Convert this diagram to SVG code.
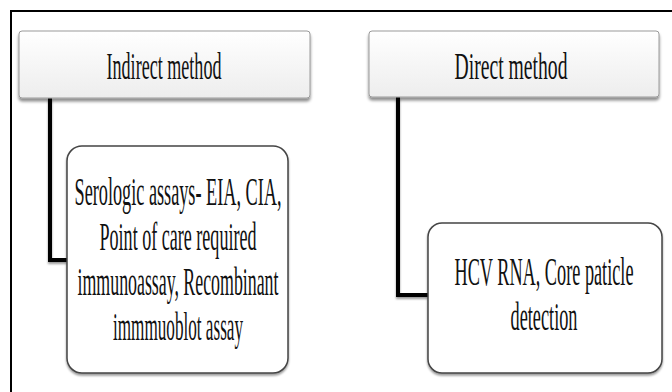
<svg xmlns="http://www.w3.org/2000/svg" width="672" height="392" viewBox="0 0 672 392">
<defs>
<linearGradient id="hg" x1="0" y1="0" x2="0" y2="1">
<stop offset="0" stop-color="#ffffff"/>
<stop offset="1" stop-color="#ededed"/>
</linearGradient>
<filter id="sh" x="-10%" y="-10%" width="120%" height="130%">
<feDropShadow dx="0" dy="3" stdDeviation="1.5" flood-color="#000" flood-opacity="0.45"/>
</filter>
<filter id="lsh" x="-20%" y="-20%" width="140%" height="140%">
<feDropShadow dx="0" dy="2" stdDeviation="1" flood-color="#000" flood-opacity="0.4"/>
</filter>
</defs>
<style>
.head{fill:url(#hg);stroke:#9a9a9a;stroke-width:1;filter:url(#sh)}
.body{fill:#fff;stroke:#444;stroke-width:1.5;filter:url(#lsh)}
.t{font-family:"Liberation Serif","Times New Roman",serif;fill:#111;text-anchor:middle}
.ht{font-size:19px}
.bt{font-size:21px}
.conn{fill:none;stroke:#000;stroke-width:4;filter:url(#lsh)}
</style>
<rect width="672" height="392" fill="#fff"/>
<rect x="11" y="11" width="720" height="420" fill="none" stroke="#000" stroke-width="2"/>
<g id="connectors">
<path class="conn" d="M50,98 V260 H67"/>
<path class="conn" d="M398,97 V295 H428"/>
</g>
<g id="indirect">
<rect class="head" x="19" y="31" width="291" height="67" rx="3"/>
<text class="t ht" transform="translate(164,79) scale(1,1.95)" textLength="115" lengthAdjust="spacingAndGlyphs">Indirect method</text>
</g>
<g id="direct">
<rect class="head" x="369" y="31" width="290" height="66" rx="3"/>
<text class="t ht" transform="translate(511,79) scale(1,1.95)" textLength="113" lengthAdjust="spacingAndGlyphs">Direct method</text>
</g>
<g id="serologic">
<rect class="body" x="67" y="146" width="221" height="227" rx="15"/>
<text class="t bt" transform="translate(178,205) scale(1,1.95)" textLength="207" lengthAdjust="spacingAndGlyphs">Serologic assays- EIA, CIA,</text>
<text class="t bt" transform="translate(178,250) scale(1,1.95)" textLength="157" lengthAdjust="spacingAndGlyphs">Point of care required</text>
<text class="t bt" transform="translate(178,295) scale(1,1.95)" textLength="201" lengthAdjust="spacingAndGlyphs">immunoassay, Recombinant</text>
<text class="t bt" transform="translate(178,340) scale(1,1.95)" textLength="130" lengthAdjust="spacingAndGlyphs">immmuoblot assay</text>
</g>
<g id="hcv">
<rect class="body" x="428" y="223" width="234" height="150" rx="14"/>
<text class="t bt" transform="translate(544,285) scale(1,1.95)" textLength="179" lengthAdjust="spacingAndGlyphs">HCV RNA, Core paticle</text>
<text class="t bt" transform="translate(544,330) scale(1,1.95)" textLength="67" lengthAdjust="spacingAndGlyphs">detection</text>
</g>
</svg>
